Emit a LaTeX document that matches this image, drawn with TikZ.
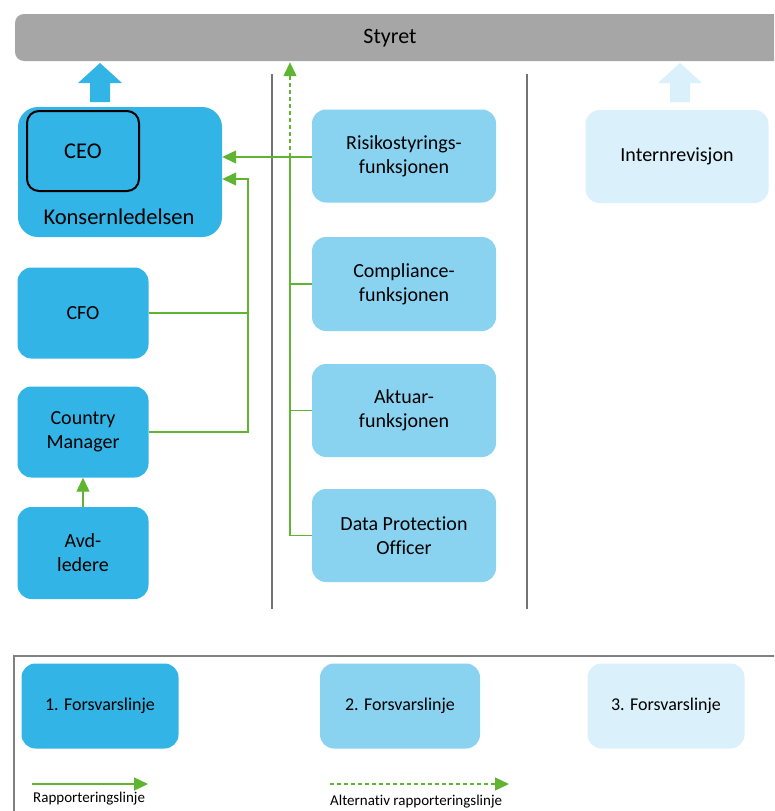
\documentclass[tikz,border=0pt]{standalone}
\usepackage{fontspec}
\setmainfont{Carlito}[Ligatures=NoCommon]
\usetikzlibrary{positioning, arrows.meta}
\definecolor{lineone}{RGB}{50,180,230}
\definecolor{linetwo}{RGB}{137,211,241}
\definecolor{linethree}{RGB}{218,240,250}
\definecolor{boardgray}{RGB}{166,166,166}
\definecolor{repgreen}{RGB}{95,180,50}
\tikzset{
	box/.style={rounded corners=14pt, minimum width=131pt, minimum height=91pt, inner sep=0pt, align=center, font=\fontsize{20}{24}\selectfont}, % every unit box
	first/.style={box, fill=lineone}, % 1. line of defence
	second/.style={box, fill=linetwo, minimum width=184pt}, % 2. line of defence
	third/.style={box, fill=linethree, minimum width=183pt}, % 3. line of defence
	legendbox/.style={box, minimum width=157pt, minimum height=85pt, font=\fontsize{18}{22}\selectfont},
	rep/.style={draw=repgreen, line width=1.3pt, -{Triangle[length=14pt,width=13pt]}}, % reporting line
	repline/.style={draw=repgreen, line width=1.3pt}, % reporting line, no head
	alt/.style={rep, dash pattern=on 4pt off 3pt}, % alternative reporting line
	divider/.style={draw=black!55, line width=2.5pt},
	legendtext/.style={anchor=west, inner sep=0pt, font=\fontsize{15}{18}\selectfont},
}
% block arrow up to the board, #1 colour, #2 foot of the arrow
\newcommand{\upblock}[2]{\fill[#1] (#2) ++(-10,0) -- ++(0,-19) -- ++(-12,0) -- ++(22,-20) -- ++(22,20) -- ++(-12,0) -- ++(0,19) -- cycle;}

\begin{document}
\begin{tikzpicture}[x=1pt, y=-1pt]
	\useasboundingbox (0,0) rectangle (774,811);
	\clip (0,0) rectangle (774,811);

	% board
	\node[fill=boardgray, rounded corners=9pt, minimum width=790pt, minimum height=47pt] (styret) at (410,37.5) {};
	\node[font=\fontsize{22}{26}\selectfont] (styrettext) at (390,38) {Styret};

	% dividers between the lines of defence
	\coordinate (d1top) at (272,74);
	\coordinate (d1bot) at (272,609);
	\coordinate (d2top) at (527,74);
	\coordinate (d2bot) at (527,609);
	\draw[divider] (d1top) -- (d1bot);
	\draw[divider] (d2top) -- (d2bot);

	% 1. line
	\node[first, rounded corners=20pt, minimum width=204pt, minimum height=130pt] (konsern) at (120,172) {};
	\node[draw=black, line width=2pt, rounded corners=12pt, minimum width=112pt, minimum height=80pt, font=\fontsize{22.5}{26}\selectfont] (ceo) at (83,151) {CEO};
	\node[font=\fontsize{22.5}{26}\selectfont] (konsernlabel) at (119,217) {Konsernledelsen};
	\node[first] (cfo) at (83,313) {CFO};
	\node[first] (cm) at (83,432) {Country\\Manager};
	\node[first, minimum height=92pt] (avd) at (83,553) {Avd-\\ledere};

	% 2. line
	\node[second, minimum height=93pt] (risk) at (404,156) {Risikostyrings-\\funksjonen};
	\node[second, minimum height=94pt] (compl) at (404,284) {Compliance-\\funksjonen};
	\node[second, minimum height=93pt] (aktuar) at (404,410.5) {Aktuar-\\funksjonen};
	\node[second, minimum height=93pt] (dpo) at (404,535.5) {Data Protection\\Officer};

	% 3. line
	\node[third, minimum height=93pt] (intern) at (677,156.5) {Internrevisjon};

	% up to the board
	\coordinate (k1) at (100,102);
	\coordinate (k3) at (680,102);
	\upblock{lineone}{k1}
	\upblock{linethree}{k3}

	% reporting lines
	\coordinate (jr) at (290,157);
	\coordinate (ja) at (248,179);
	\draw[rep] (risk.west |- jr) -- (jr -| konsern.east);
	\draw[alt, shorten >=1pt] (jr) -- (jr |- styret.south);
	\draw[repline] (jr) |- (dpo.west);
	\draw[repline] (jr |- compl.west) -- (compl.west);
	\draw[repline] (jr |- aktuar.west) -- (aktuar.west);
	\draw[rep] (cm.east) -| (ja) -- (ja -| konsern.east);
	\draw[repline] (cfo.east) -- (cfo.east -| ja);
	\draw[rep] (avd.north) -- (cm.south);

	% legend
	\draw[gray, line width=1.5pt] (14,656) rectangle (820,840);
	\node[legendbox, fill=lineone] (leg1) at (100,706) {1. Forsvarslinje};
	\node[legendbox, fill=linetwo, minimum width=160pt] (leg2) at (400,706) {2. Forsvarslinje};
	\node[legendbox, fill=linethree] (leg3) at (666,706) {3. Forsvarslinje};
	\coordinate (r1) at (32,784);
	\coordinate (r2) at (148,784);
	\coordinate (a1) at (330,784);
	\coordinate (a2) at (509,784);
	\draw[rep] (r1) -- (r2);
	\draw[alt] (a1) -- (a2);
	\node[legendtext] (replabel) at (33,799) {Rapporteringslinje};
	\node[legendtext] (altlabel) at (330,802) {Alternativ rapporteringslinje};
\end{tikzpicture}
\end{document}
